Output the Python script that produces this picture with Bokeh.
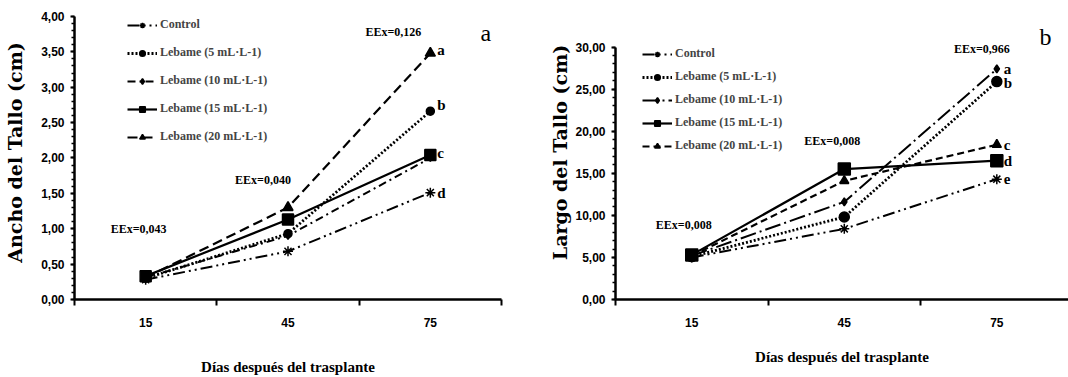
from bokeh.plotting import figure
from bokeh.models import FixedTicker, Legend, LegendItem, Label, CustomJSTickFormatter
from bokeh.layouts import row
from bokeh.embed import file_html
from bokeh.resources import INLINE
from bokeh.core.properties import value

# ---------------- data ----------------
days = ["15", "45", "75"]
series = ["Control", "Lebame (5 mL·L-1)", "Lebame (10 mL·L-1)",
          "Lebame (15 mL·L-1)", "Lebame (20 mL·L-1)"]

ancho_control = [0.28, 0.68, 1.51]
ancho_5 = [0.30, 0.93, 2.66]
ancho_10 = [0.31, 0.90, 2.00]
ancho_15 = [0.33, 1.13, 2.04]
ancho_20 = [0.31, 1.30, 3.48]
ancho_letters = ["d", "b", "", "c", "a"]
ancho_eex = ["EEx=0,043", "EEx=0,040", "EEx=0,126"]

largo_control = [5.0, 8.4, 14.3]
largo_5 = [5.1, 9.8, 25.9]
largo_10 = [5.2, 11.6, 27.4]
largo_15 = [5.3, 15.5, 16.5]
largo_20 = [5.2, 14.1, 18.4]
largo_letters = ["e", "b", "a", "d", "c"]
largo_eex = ["EEx=0,008", "EEx=0,008", "EEx=0,966"]

# ---------------- styles ----------------
SERIF = "Liberation Serif"
SANS = "Liberation Sans"

style_a = [
    dict(dash="12 4 2 4 2 4", marker="asterisk", size=10, lw=2),
    dict(dash="2 2", marker="circle", size=8, lw=2.8),
    dict(dash="8 4 2 4", marker="diamond", size=7, lw=2),
    dict(dash="solid", marker="square", size=11, lw=2.2),
    dict(dash="10 5", marker="triangle", size=10, lw=2.2),
]
style_b = [
    dict(dash="12 4 2 4 2 4", marker="asterisk", size=10, lw=2),
    dict(dash="2 2", marker="circle", size=10, lw=2.8),
    dict(dash="16 4 2 4", marker="diamond", size=8, lw=2),
    dict(dash="solid", marker="square", size=12, lw=2.2),
    dict(dash="7 4", marker="triangle", size=9, lw=2.2),
]

FRAME_TOP = 5
FRAME_BOTTOM = 302
H = 377


def make_panel(width, xend, ymax, yview, ystep, yminor, data, styles, letters,
               letter_dy, eex, eex_dx, eex_dy, ytitle, left, right, legend_loc,
               legend_spacing, xtitle_standoff, ytitle_standoff, panel_letter,
               panel_xy):
    p = figure(width=width, height=H, x_range=(0, xend), y_range=(0, yview),
               output_backend="svg", toolbar_location=None,
               min_border_left=left, min_border_right=right,
               min_border_top=FRAME_TOP, min_border_bottom=H - FRAME_BOTTOM)
    p.outline_line_color = None
    p.xgrid.visible = False
    p.ygrid.visible = False
    p.background_fill_color = "white"
    p.border_fill_color = "white"

    xs = [i + 0.5 for i in range(len(days))]

    items = []
    for name, vals, st in zip(series, data, styles):
        lr = p.line(xs, vals, line_color="black", line_width=st["lw"],
                    line_dash=st["dash"])
        sr = p.scatter(xs, vals, marker=st["marker"], size=st["size"],
                       fill_color="black", line_color="black", line_width=1.5)
        items.append(LegendItem(label=name, renderers=[lr, sr]))

    # significance letters at last day
    lx, ly, lt, ldy = [], [], [], []
    for vals, letter, dy in zip(data, letters, letter_dy):
        if letter:
            lx.append(xs[-1])
            ly.append(vals[-1])
            lt.append(letter)
            ldy.append(dy)
    p.text(x=lx, y=ly, text=lt, x_offset=7, y_offset=ldy,
           text_font=value(SERIF), text_font_style="bold",
           text_font_size="15px", text_baseline="middle", text_color="black")

    # EEx labels above the highest point of each day
    ey = [max(v[i] for v in data) for i in range(len(days))]
    p.text(x=xs, y=ey, text=eex, x_offset=eex_dx, y_offset=eex_dy,
           text_font=value(SERIF), text_font_style="bold",
           text_font_size="12px", text_align="center",
           text_baseline="middle", text_color="black")

    p.add_layout(Label(x=panel_xy[0], y=panel_xy[1], text=panel_letter,
                       text_font=SERIF, text_font_size="24px",
                       text_align="center", text_baseline="middle",
                       text_color="black"))

    legend = Legend(items=items, location=legend_loc, padding=0, margin=0,
                    spacing=legend_spacing, glyph_width=30, glyph_height=14,
                    label_height=14, label_standoff=3,
                    label_text_font=SERIF, label_text_font_style="bold",
                    label_text_font_size="12px",
                    background_fill_alpha=0, border_line_color=None)
    p.add_layout(legend)

    # y axis
    nt = int(round(ymax / ystep))
    p.yaxis.bounds = (0, ymax)
    p.yaxis.ticker = FixedTicker(ticks=[i * ystep for i in range(nt + 1)],
                                 minor_ticks=[i * yminor for i in range(int(round(ymax / yminor)) + 1)])
    p.yaxis.formatter = CustomJSTickFormatter(code="return tick.toFixed(2).replace('.', ',');")
    p.yaxis.axis_line_width = 2.5
    p.yaxis.axis_line_color = "black"
    p.yaxis.major_tick_out = 4
    p.yaxis.major_tick_in = 0
    p.yaxis.major_tick_line_width = 2
    p.yaxis.minor_tick_out = 3
    p.yaxis.minor_tick_in = 0
    p.yaxis.minor_tick_line_width = 1.5
    p.yaxis.major_label_standoff = 6
    p.yaxis.major_label_text_font = SANS
    p.yaxis.major_label_text_font_style = "bold"
    p.yaxis.major_label_text_font_size = "12px"
    p.yaxis.major_label_text_color = "black"
    p.yaxis.axis_label = ytitle
    p.yaxis.axis_label_text_font = "DejaVu Serif"
    p.yaxis.axis_label_text_font_style = "bold"
    p.yaxis.axis_label_text_font_size = "19px"
    p.yaxis.axis_label_text_color = "black"
    p.yaxis.axis_label_standoff = ytitle_standoff

    # x axis
    p.xaxis.ticker = FixedTicker(ticks=xs, minor_ticks=list(range(len(days) + 1)))
    p.xaxis.formatter = CustomJSTickFormatter(args=dict(days=days),
                                              code="return days[Math.floor(tick)];")
    p.xaxis.axis_line_width = 2.5
    p.xaxis.axis_line_color = "black"
    p.xaxis.major_tick_out = 0
    p.xaxis.major_tick_in = 0
    p.xaxis.minor_tick_out = 6
    p.xaxis.minor_tick_in = 0
    p.xaxis.minor_tick_line_width = 2
    p.xaxis.major_label_standoff = 12
    p.xaxis.major_label_text_font = SANS
    p.xaxis.major_label_text_font_style = "bold"
    p.xaxis.major_label_text_font_size = "12px"
    p.xaxis.major_label_text_color = "black"
    p.xaxis.axis_label = "Días después del trasplante"
    p.xaxis.axis_label_text_font = SERIF
    p.xaxis.axis_label_text_font_style = "bold"
    p.xaxis.axis_label_text_font_size = "15px"
    p.xaxis.axis_label_text_color = "black"
    p.xaxis.axis_label_standoff = xtitle_standoff
    return p


frame_h = FRAME_BOTTOM - FRAME_TOP

p1 = make_panel(
    530, 3.0, 4.0, frame_h / 71.5, 0.5, 0.1,
    [ancho_control, ancho_5, ancho_10, ancho_15, ancho_20], style_a,
    ancho_letters, [0, -6, 0, -2, -3],
    ancho_eex, [-7, -25, -37], [-47, -27, -21],
    "Ancho del Tallo (cm)", 74, 29, (53, 155), 13, 29, 12,
    "a", (2.89, 3.76))

p2 = make_panel(
    538, 2.97, 30.0, frame_h / 8.5, 5.0, 1.0,
    [largo_control, largo_5, largo_10, largo_15, largo_20], style_b,
    largo_letters, [0, 1, 0, 0, 0],
    largo_eex, [-8, -12, -15], [-30, -28, -20],
    "Largo del Tallo (cm)", 85, 0, (27, 146), 8, 19, 1,
    "b", (2.82, 31.2))

layout = row(p1, p2)
open("out.html", "w").write(file_html(layout, INLINE))
